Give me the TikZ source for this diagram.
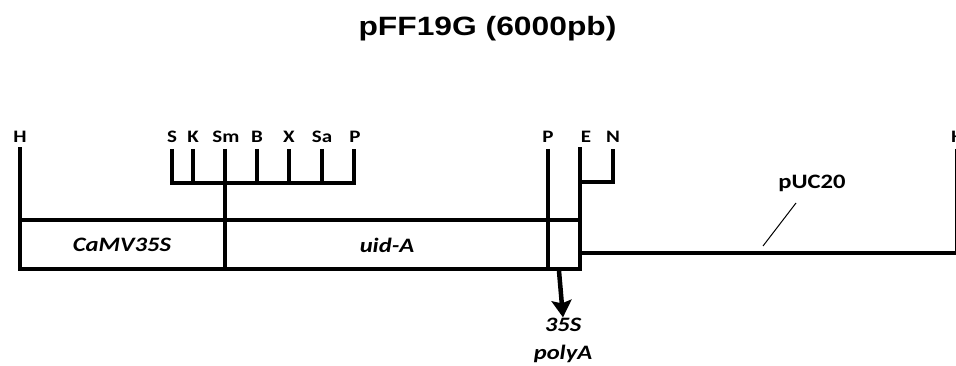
\documentclass[tikz,border=0pt]{standalone}
\usepackage{fontspec}
\setmainfont{Carlito}[FakeStretch=1.2]
\newfontfamily\titlefont{Liberation Sans}[FakeStretch=1.2]
\usetikzlibrary{arrows.meta}
\begin{document}
\begin{tikzpicture}[x=1pt,y=-1pt,
  thk/.style={line width=4.5pt},
  thn/.style={line width=1pt},
  site/.style={font=\bfseries\fontsize{17.5}{17.5}\selectfont, inner sep=0pt, anchor=base},
  elem/.style={font=\bfseries\itshape\fontsize{20.5}{20.5}\selectfont, inner sep=0pt},
  lbl/.style={font=\bfseries\fontsize{20.5}{20.5}\selectfont, inner sep=0pt}]
\useasboundingbox (0,0) rectangle (956,366);
% title
\node[font=\titlefont\bfseries\fontsize{26.5}{26.5}\selectfont, inner sep=0pt, anchor=base] (title) at (487.5,36) {pFF19G (6000pb)};
% site labels
\node[site] (H1) at (20,143) {H};
\node[site] (S) at (172,143) {S};
\node[site] (K) at (193,143) {K};
\node[site] (Sm) at (226,143) {Sm};
\node[site] (B) at (257,143) {B};
\node[site] (X) at (289,143) {X};
\node[site] (Sa) at (322,143) {Sa};
\node[site] (P1) at (355,143) {P};
\node[site] (P2) at (548,143) {P};
\node[site] (E) at (586,143) {E};
\node[site] (N) at (613,143) {N};
\node[site, anchor=base west] (H2) at (951,143) {H};
% coordinates
\coordinate (h1t) at (20,149);
\coordinate (boxtl) at (20,220);
\coordinate (boxbl) at (20,269);
\coordinate (boxtr) at (580,220);
\coordinate (boxbr) at (580,269);
% H line and box
\draw[thk, line cap=rect] (h1t) -- (boxbl) -- (boxbr) -- (580,149);
\draw[thk] (boxtl) -- (boxtr);
% comb
\draw[thk, line join=miter] (172,149) -- (172,183) -- (354,183) -- (354,149);
\foreach \x in {193,257,289,322} \draw[thk] (\x,149) -- (\x,183);
\draw[thk] (225,149) -- (225,269);
% P, E, N
\draw[thk] (548,149) -- (548,269);
\draw[thk, line join=miter] (580,182) -- (613,182) -- (613,149);
% pUC20 line
\draw[thk] (580,253) -- (956,253);
\draw[thn] (955,149) -- (955,253);
% element labels
\node[elem] (camv) at (122,245) {CaMV35S};
\node[elem] (uida) at (387,245) {uid-A};
\node[elem, anchor=base] (s35) at (563,331) {35S};
\node[elem, anchor=base] (polya) at (563,359) {polyA};
\coordinate (arrs) at (559,271);
\draw[thk, -{Stealth[length=17pt,width=20pt,inset=3pt]}] (arrs) -- (s35.north);
% pUC20
\node[lbl] (puc) at (812,183) {pUC20};
\draw[thn] (796,203) -- (763,246);
\end{tikzpicture}
\end{document}
